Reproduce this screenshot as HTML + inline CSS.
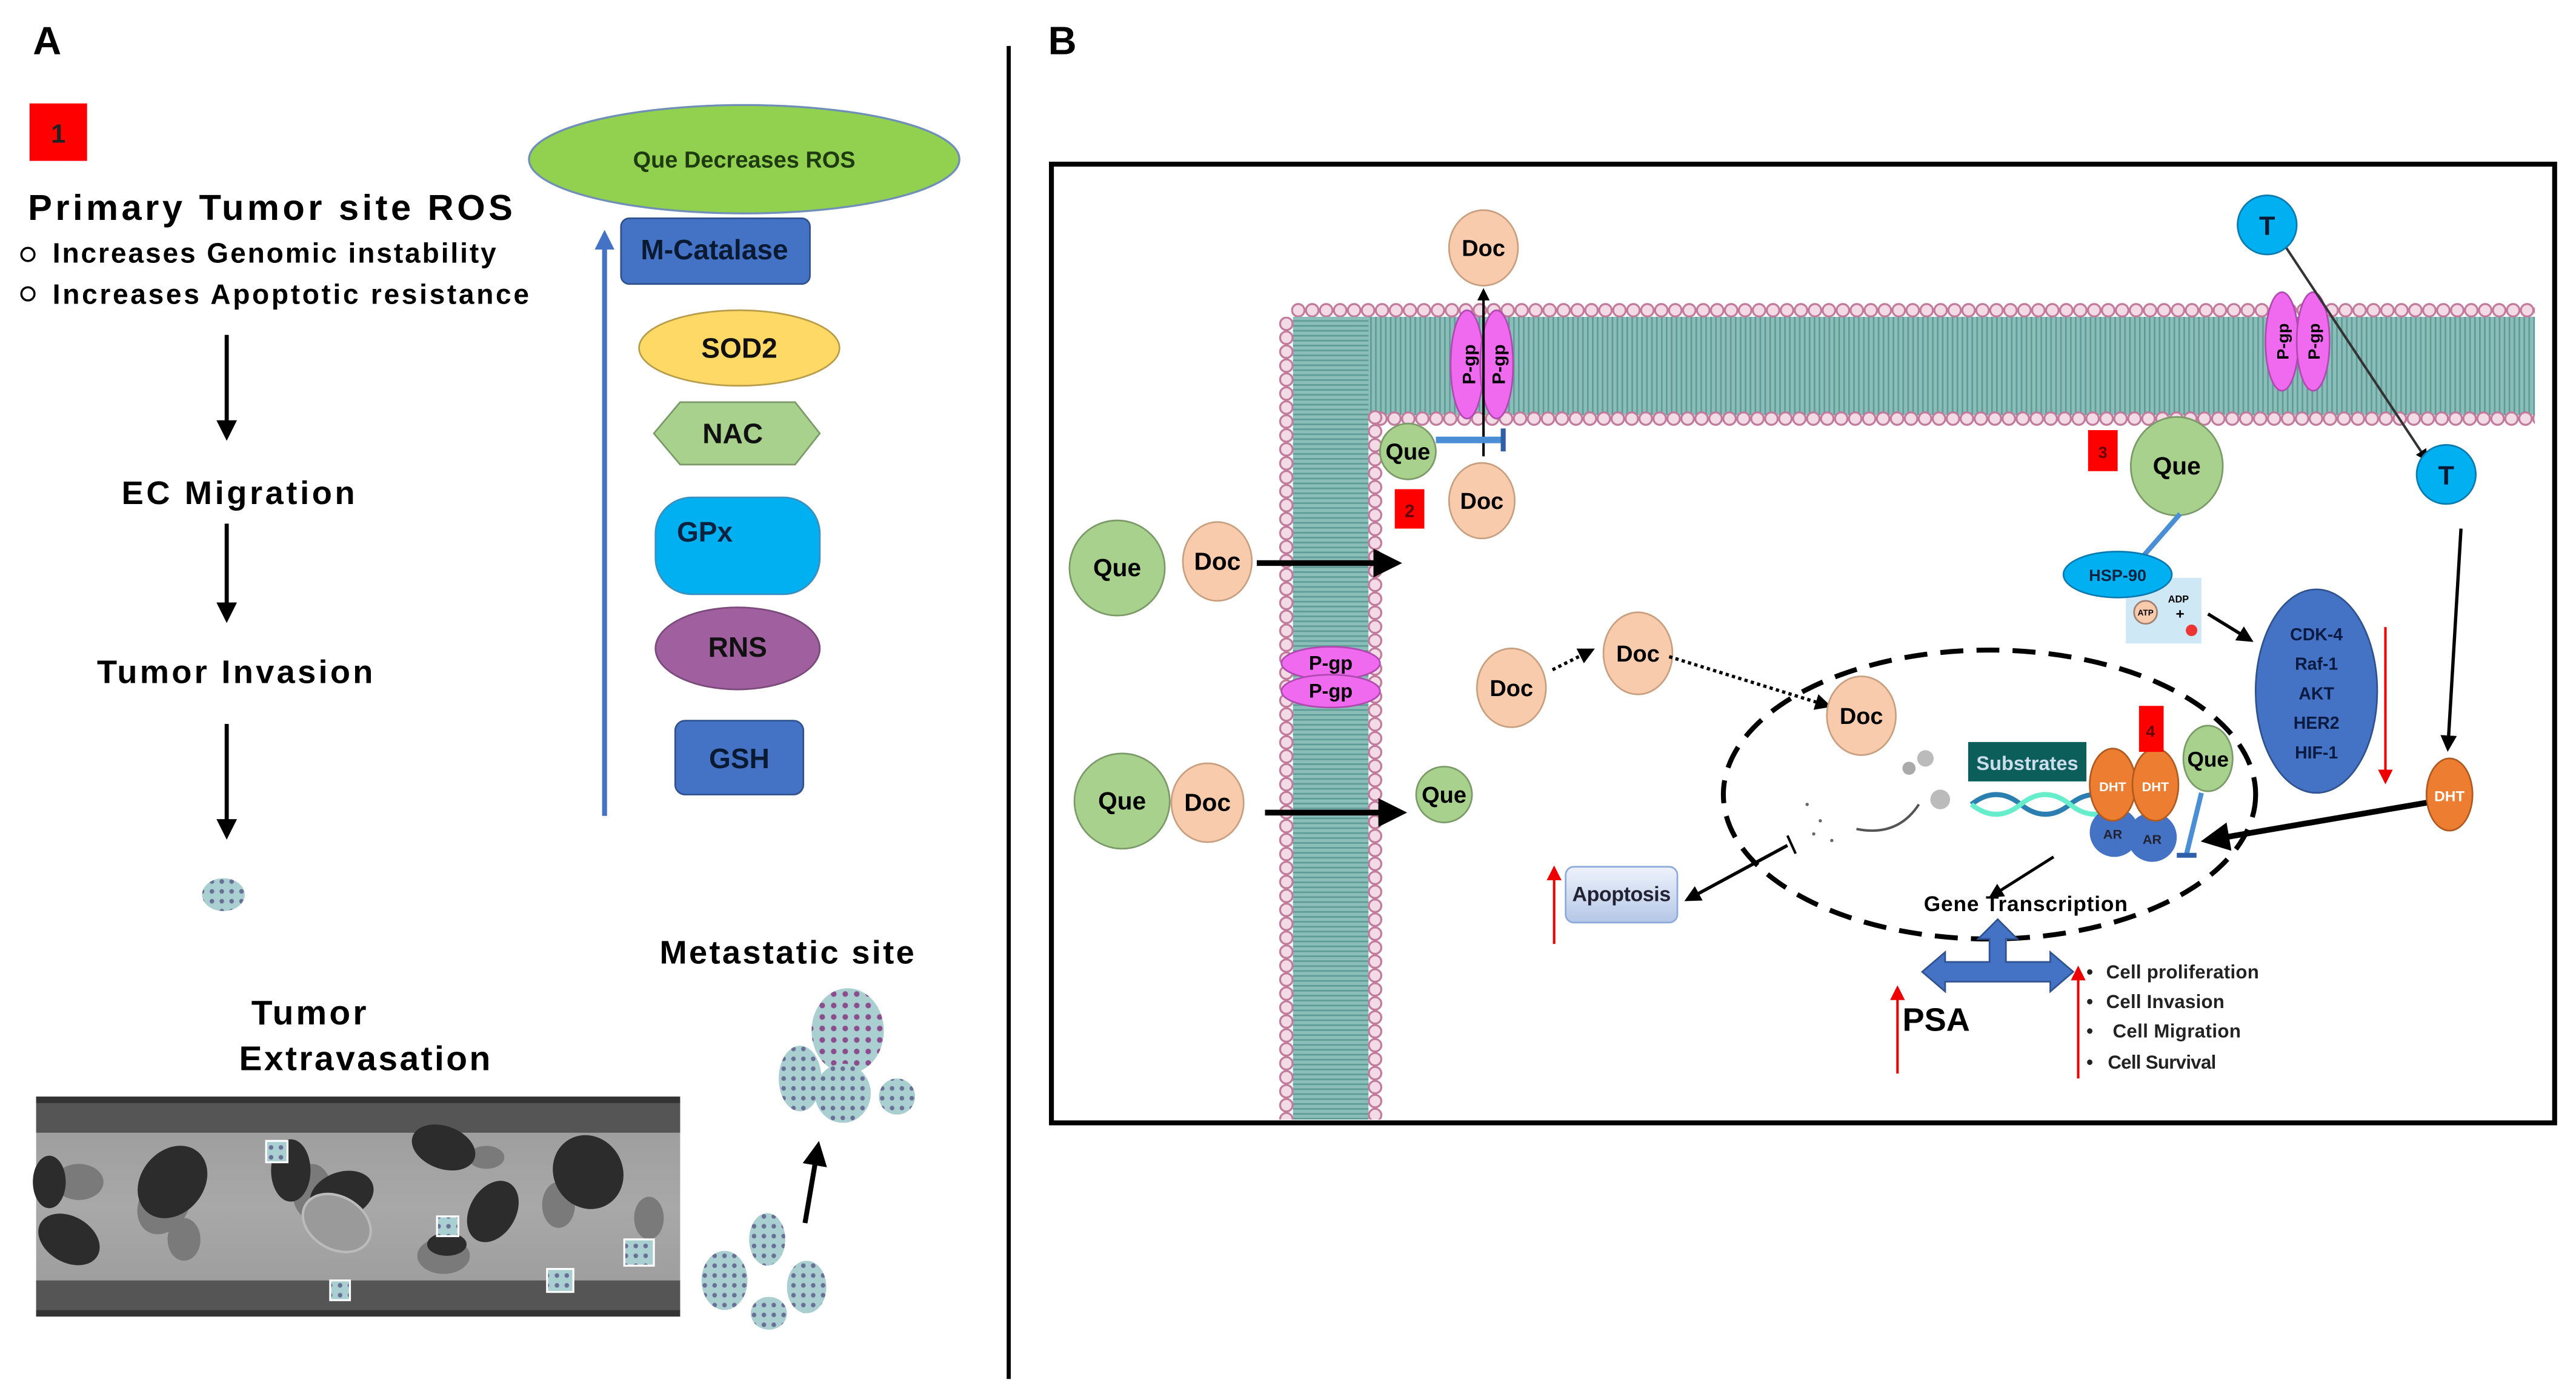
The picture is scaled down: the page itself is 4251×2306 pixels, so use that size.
<!DOCTYPE html>
<html><head><meta charset="utf-8"><style>
html,body{margin:0;padding:0;background:#fff}
svg{display:block}
text{font-family:"Liberation Sans",sans-serif;font-weight:bold}
</style></head><body>
<svg width="4251" height="2306" viewBox="0 0 1568 851" preserveAspectRatio="none" xmlns="http://www.w3.org/2000/svg">
<defs>
<marker id="ah" viewBox="0 0 10 10" refX="8" refY="5" markerWidth="5" markerHeight="5" orient="auto"><path d="M0,0L10,5L0,10z" fill="#000"/></marker>
<marker id="ahr" viewBox="0 0 10 10" refX="8" refY="5" markerWidth="6" markerHeight="6" orient="auto"><path d="M0,0L10,5L0,10z" fill="#e00"/></marker>
<pattern id="headsH1" x="786" y="184" width="8.5" height="10" patternUnits="userSpaceOnUse"><circle cx="4.25" cy="5" r="3.8" fill="#f3dbe6" stroke="#c27a9c" stroke-width="1.2"/></pattern>
<pattern id="headsH2" x="836" y="250" width="8.5" height="10" patternUnits="userSpaceOnUse"><circle cx="4.25" cy="5" r="3.8" fill="#f3dbe6" stroke="#c27a9c" stroke-width="1.2"/></pattern>
<pattern id="headsV1" x="778" y="193" width="10" height="8.5" patternUnits="userSpaceOnUse"><circle cx="5" cy="4.25" r="3.8" fill="#f3dbe6" stroke="#c27a9c" stroke-width="1.2"/></pattern>
<pattern id="headsV2" x="832" y="250" width="10" height="8.5" patternUnits="userSpaceOnUse"><circle cx="5" cy="4.25" r="3.8" fill="#f3dbe6" stroke="#c27a9c" stroke-width="1.2"/></pattern>
<pattern id="vstripe" width="3" height="10" patternUnits="userSpaceOnUse"><rect width="3" height="10" fill="#8bbdb9"/><rect width="1" height="10" fill="#5f9c98"/></pattern>
<pattern id="hstripe" width="10" height="3" patternUnits="userSpaceOnUse"><rect width="10" height="3" fill="#8bbdb9"/><rect width="10" height="1" fill="#5f9c98"/></pattern>
<pattern id="cells" width="6" height="6" patternUnits="userSpaceOnUse"><rect width="6" height="6" fill="#a9cfd0"/><circle cx="3" cy="3" r="1.4" fill="#6a6f98"/></pattern>
<pattern id="cells2" width="7" height="7" patternUnits="userSpaceOnUse"><rect width="7" height="7" fill="#a9cfd0"/><circle cx="3.5" cy="3.5" r="1.7" fill="#8c4d8e"/></pattern>
<linearGradient id="vess" x1="0" y1="0" x2="0" y2="1"><stop offset="0" stop-color="#9a9a9a"/><stop offset="0.5" stop-color="#a8a8a8"/><stop offset="1" stop-color="#9a9a9a"/></linearGradient>
<linearGradient id="apo" x1="0" y1="0" x2="0" y2="1"><stop offset="0" stop-color="#eef2fb"/><stop offset="1" stop-color="#b4c7e7"/></linearGradient>
</defs>

<!-- Panel A -->
<text x="20" y="33" font-size="24">A</text>
<rect x="18" y="63" width="35" height="35" fill="#f00"/>
<text x="35.5" y="87" font-size="16" text-anchor="middle" font-weight="normal" fill="#222">1</text>
<text x="17" y="134" font-size="22" textLength="295">Primary  Tumor site ROS</text>
<circle cx="17" cy="155" r="4" fill="none" stroke="#000" stroke-width="1.3"/>
<text x="32" y="160" font-size="17" textLength="270">Increases Genomic instability</text>
<circle cx="17" cy="179" r="4" fill="none" stroke="#000" stroke-width="1.3"/>
<text x="32" y="185" font-size="17" textLength="290">Increases  Apoptotic resistance</text>
<line x1="138" y1="204" x2="138" y2="266" stroke="#000" stroke-width="2.5" marker-end="url(#ah)"/>
<text x="145" y="307" font-size="20" text-anchor="middle" textLength="142">EC Migration</text>
<line x1="138" y1="319" x2="138" y2="377" stroke="#000" stroke-width="2.5" marker-end="url(#ah)"/>
<text x="143" y="416" font-size="20" text-anchor="middle" textLength="168">Tumor Invasion</text>
<line x1="138" y1="441" x2="138" y2="509" stroke="#000" stroke-width="2.5" marker-end="url(#ah)"/>
<ellipse cx="136" cy="545" rx="13" ry="10" fill="url(#cells)"/>

<ellipse cx="453" cy="97" rx="131" ry="33" fill="#92d050" stroke="#6f8fb8" stroke-width="1.2"/>
<text x="453" y="102" font-size="14" text-anchor="middle" fill="#1e3a10" font-weight="normal">Que Decreases ROS</text>
<line x1="368" y1="497" x2="368" y2="150" stroke="#4472c4" stroke-width="3"/>
<path d="M362,152 L368,140 L374,152 z" fill="#4472c4"/>
<rect x="378" y="133" width="115" height="40" rx="5" fill="#4472c4" stroke="#2f528f"/>
<text x="390" y="158" font-size="17" fill="#0b1a33">M-Catalase</text>
<ellipse cx="450" cy="212" rx="61" ry="23" fill="#ffd966" stroke="#b79c4a"/>
<text x="450" y="218" font-size="17" text-anchor="middle" fill="#111">SOD2</text>
<path d="M398,264 L414,245 L484,245 L499,264 L484,283 L414,283 z" fill="#a9d18e" stroke="#7a9a68"/>
<text x="446" y="270" font-size="17" text-anchor="middle" fill="#111">NAC</text>
<rect x="399" y="303" width="100" height="59" rx="22" fill="#00b0f0" stroke="#3a8fc0"/>
<text x="412" y="330" font-size="17" fill="#0b2340">GPx</text>
<ellipse cx="449" cy="395" rx="50" ry="25" fill="#a0609f" stroke="#7a4a7a"/>
<text x="449" y="400" font-size="17" text-anchor="middle" fill="#111">RNS</text>
<rect x="411" y="439" width="78" height="45" rx="6" fill="#4472c4" stroke="#2f528f"/>
<text x="450" y="468" font-size="17" text-anchor="middle" fill="#0b1a33">GSH</text>

<text x="188" y="624" font-size="21" text-anchor="middle" textLength="70">Tumor</text>
<text x="222" y="652" font-size="21" text-anchor="middle" textLength="153">Extravasation</text>
<text x="479" y="587" font-size="20" text-anchor="middle" textLength="155">Metastatic site</text>

<rect x="22" y="668" width="392" height="134" fill="url(#vess)"/>
<rect x="22" y="668" width="392" height="4" fill="#333"/>
<rect x="22" y="672" width="392" height="18" fill="#555"/>
<rect x="22" y="780" width="392" height="18" fill="#555"/>
<rect x="22" y="798" width="392" height="4" fill="#333"/>
<g fill="#7a7a7a">
<ellipse cx="48" cy="720" rx="15" ry="11"/><ellipse cx="100" cy="733" rx="15" ry="20" transform="rotate(30 100 733)"/>
<ellipse cx="190" cy="726" rx="12" ry="17"/><ellipse cx="340" cy="734" rx="10" ry="14"/>
<ellipse cx="112" cy="755" rx="10" ry="13"/><ellipse cx="270" cy="765" rx="16" ry="11"/>
<ellipse cx="395" cy="742" rx="9" ry="13"/><ellipse cx="296" cy="705" rx="11" ry="7"/>
</g>
<g fill="#2c2c2c">
<ellipse cx="30" cy="720" rx="10" ry="16"/><ellipse cx="105" cy="720" rx="19" ry="24" transform="rotate(40 105 720)"/>
<ellipse cx="177" cy="713" rx="12" ry="19"/><ellipse cx="208" cy="728" rx="20" ry="14" transform="rotate(-20 208 728)"/>
<ellipse cx="270" cy="699" rx="20" ry="13" transform="rotate(20 270 699)"/>
<ellipse cx="358" cy="714" rx="21" ry="23" transform="rotate(-30 358 714)"/>
<ellipse cx="300" cy="738" rx="14" ry="20" transform="rotate(30 300 738)"/>
<ellipse cx="42" cy="755" rx="20" ry="14" transform="rotate(30 42 755)"/>
<ellipse cx="272" cy="758" rx="12" ry="7"/>
</g>
<ellipse cx="205" cy="745" rx="22" ry="16" fill="#9a9a9a" stroke="#bbb" stroke-width="1.5" transform="rotate(30 205 745)"/>
<g stroke="#fff" stroke-width="1.2">
<rect x="162" y="695" width="13" height="13" fill="url(#cells)"/><rect x="266" y="741" width="13" height="12" fill="url(#cells)"/>
<rect x="380" y="755" width="18" height="16" fill="url(#cells)"/><rect x="333" y="773" width="16" height="14" fill="url(#cells)"/>
<rect x="201" y="780" width="12" height="12" fill="url(#cells)"/>
</g>
<g>
<ellipse cx="516" cy="628" rx="22" ry="26" fill="url(#cells2)"/>
<ellipse cx="487" cy="657" rx="13" ry="20" fill="url(#cells)"/>
<ellipse cx="513" cy="666" rx="17" ry="18" fill="url(#cells)"/>
<ellipse cx="546" cy="668" rx="11" ry="11" fill="url(#cells)"/>
<ellipse cx="467" cy="755" rx="11" ry="16" fill="url(#cells)"/>
<ellipse cx="441" cy="780" rx="14" ry="18" fill="url(#cells)"/>
<ellipse cx="491" cy="784" rx="12" ry="16" fill="url(#cells)"/>
<ellipse cx="468" cy="800" rx="11" ry="10" fill="url(#cells)"/>
</g>
<line x1="490" y1="745" x2="498" y2="698" stroke="#000" stroke-width="3" marker-end="url(#ah)"/>

<!-- divider -->
<line x1="614" y1="28" x2="614" y2="840" stroke="#000" stroke-width="2.5"/>

<!-- Panel B -->
<text x="638" y="33" font-size="24">B</text>
<rect x="640" y="100" width="915" height="584" fill="#fff" stroke="#000" stroke-width="3"/>

<!-- membranes -->
<rect x="788" y="193" width="755" height="60" fill="url(#vstripe)"/>
<rect x="786" y="184" width="757" height="10" fill="url(#headsH1)"/>
<rect x="836" y="250" width="707" height="10" fill="url(#headsH2)"/>
<rect x="787" y="193" width="46" height="489" fill="url(#hstripe)"/>
<rect x="778" y="193" width="10" height="489" fill="url(#headsV1)"/>
<rect x="832" y="250" width="10" height="432" fill="url(#headsV2)"/>

<!-- P-gp top-left -->
<ellipse cx="893" cy="222" rx="10" ry="33" fill="#f06af0" stroke="#b04ab0"/>
<ellipse cx="911" cy="222" rx="10" ry="33" fill="#f06af0" stroke="#b04ab0"/>
<text transform="translate(898,222) rotate(-90)" font-size="11" text-anchor="middle">P-gp</text>
<text transform="translate(916,222) rotate(-90)" font-size="11" text-anchor="middle">P-gp</text>
<line x1="903" y1="278" x2="903" y2="177" stroke="#000" stroke-width="1.5" marker-end="url(#ah)"/>
<ellipse cx="903" cy="151" rx="21" ry="23" fill="#f8cbad" stroke="#c8a080"/>
<text x="903" y="156" font-size="14" text-anchor="middle">Doc</text>
<line x1="874" y1="268" x2="914" y2="268" stroke="#4a8fd6" stroke-width="4"/>
<line x1="915" y1="261" x2="915" y2="275" stroke="#2f5fa8" stroke-width="3"/>
<circle cx="857" cy="275" r="17" fill="#a9d18e" stroke="#7a9a68"/>
<text x="857" y="280" font-size="14" text-anchor="middle">Que</text>
<rect x="849" y="298" width="18" height="24" fill="#f00"/>
<text x="858" y="315" font-size="11" text-anchor="middle" font-weight="normal" fill="#600">2</text>
<ellipse cx="902" cy="305" rx="20" ry="23" fill="#f8cbad" stroke="#c8a080"/>
<text x="902" y="310" font-size="14" text-anchor="middle">Doc</text>

<!-- left molecules -->
<circle cx="680" cy="346" r="29" fill="#a9d18e" stroke="#7a9a68"/>
<text x="680" y="351" font-size="15" text-anchor="middle">Que</text>
<ellipse cx="741" cy="342" rx="21" ry="24" fill="#f8cbad" stroke="#c8a080"/>
<text x="741" y="347" font-size="15" text-anchor="middle">Doc</text>
<line x1="765" y1="343" x2="850" y2="343" stroke="#000" stroke-width="3.5" marker-end="url(#ah)"/>
<ellipse cx="810" cy="404" rx="30" ry="10" fill="#f06af0" stroke="#b04ab0"/>
<ellipse cx="810" cy="421" rx="30" ry="10" fill="#f06af0" stroke="#b04ab0"/>
<text x="810" y="408" font-size="12" text-anchor="middle" font-weight="normal">P-gp</text>
<text x="810" y="425" font-size="12" text-anchor="middle" font-weight="normal">P-gp</text>
<circle cx="683" cy="488" r="29" fill="#a9d18e" stroke="#7a9a68"/>
<text x="683" y="493" font-size="15" text-anchor="middle">Que</text>
<ellipse cx="735" cy="489" rx="22" ry="24" fill="#f8cbad" stroke="#c8a080"/>
<text x="735" y="494" font-size="15" text-anchor="middle">Doc</text>
<line x1="770" y1="495" x2="853" y2="495" stroke="#000" stroke-width="3.5" marker-end="url(#ah)"/>
<circle cx="879" cy="484" r="17" fill="#a9d18e" stroke="#7a9a68"/>
<text x="879" y="489" font-size="14" text-anchor="middle">Que</text>

<!-- doc path -->
<ellipse cx="920" cy="419" rx="21" ry="24" fill="#f8cbad" stroke="#c8a080"/>
<text x="920" y="424" font-size="14" text-anchor="middle">Doc</text>
<line x1="945" y1="408" x2="969" y2="396" stroke="#000" stroke-width="2" stroke-dasharray="2,2" marker-end="url(#ah)"/>
<ellipse cx="997" cy="398" rx="21" ry="25" fill="#f8cbad" stroke="#c8a080"/>
<text x="997" y="403" font-size="14" text-anchor="middle">Doc</text>
<line x1="1016" y1="400" x2="1113" y2="430" stroke="#000" stroke-width="2" stroke-dasharray="2,2" marker-end="url(#ah)"/>

<!-- nucleus -->
<ellipse cx="1211" cy="484" rx="162" ry="88" fill="none" stroke="#000" stroke-width="3" stroke-dasharray="14,8"/>
<ellipse cx="1133" cy="436" rx="21" ry="24" fill="#f8cbad" stroke="#c8a080"/>
<text x="1133" y="441" font-size="14" text-anchor="middle">Doc</text>
<circle cx="1162" cy="468" r="4" fill="#aaa"/><circle cx="1172" cy="462" r="5" fill="#bbb"/><circle cx="1181" cy="487" r="6" fill="#bbb"/>
<path d="M1130,505 Q1155,510 1168,490" fill="none" stroke="#555" stroke-width="1.5"/>
<g fill="#666"><circle cx="1100" cy="490" r="1"/><circle cx="1108" cy="500" r="1"/><circle cx="1104" cy="508" r="1"/><circle cx="1115" cy="512" r="1"/></g>
<rect x="1198" y="452" width="72" height="24" fill="#0b5e5a"/>
<text x="1234" y="469" font-size="12" text-anchor="middle" fill="#cde">Substrates</text>
<path d="M1200,490 Q1215,478 1230,490 T1260,490 T1290,490" fill="none" stroke="#2a7fb0" stroke-width="3"/>
<path d="M1200,490 Q1215,502 1230,490 T1260,490 T1290,490" fill="none" stroke="#6ec" stroke-width="3"/>
<circle cx="1287" cy="507" r="15" fill="#4472c4"/><circle cx="1310" cy="510" r="15" fill="#4472c4"/>
<ellipse cx="1286" cy="478" rx="14" ry="22" fill="#ed7d31" stroke="#b05a20"/>
<ellipse cx="1312" cy="478" rx="14" ry="22" fill="#ed7d31" stroke="#b05a20"/>
<text x="1286" y="482" font-size="8" text-anchor="middle" fill="#fff" font-weight="normal">DHT</text>
<text x="1312" y="482" font-size="8" text-anchor="middle" fill="#fff" font-weight="normal">DHT</text>
<text x="1286" y="511" font-size="8" text-anchor="middle" fill="#223" font-weight="normal">AR</text>
<text x="1310" y="514" font-size="8" text-anchor="middle" fill="#223" font-weight="normal">AR</text>
<rect x="1302" y="430" width="15" height="28" fill="#f00"/>
<text x="1309" y="449" font-size="10" text-anchor="middle" font-weight="normal" fill="#600">4</text>
<ellipse cx="1344" cy="462" rx="15" ry="20" fill="#a9d18e" stroke="#7a9a68"/>
<text x="1344" y="467" font-size="13" text-anchor="middle">Que</text>
<line x1="1340" y1="483" x2="1331" y2="520" stroke="#4a8fd6" stroke-width="3"/>
<line x1="1325" y1="521" x2="1337" y2="521" stroke="#2f5fa8" stroke-width="3"/>
<text x="1233" y="555" font-size="13" text-anchor="middle" font-weight="normal" textLength="124">Gene Transcription</text>
<line x1="1250" y1="522" x2="1212" y2="546" stroke="#000" stroke-width="1.8" marker-end="url(#ah)"/>

<!-- apoptosis -->
<line x1="1088" y1="515" x2="1027" y2="548" stroke="#000" stroke-width="2" marker-end="url(#ah)"/>
<line x1="1093" y1="520" x2="1088" y2="509" stroke="#000" stroke-width="1.5"/>
<rect x="953" y="528" width="68" height="34" rx="5" fill="url(#apo)" stroke="#8ea9db"/>
<text x="987" y="549" font-size="12.5" text-anchor="middle" fill="#223" textLength="60">Apoptosis</text>
<line x1="946" y1="575" x2="946" y2="529" stroke="#e00" stroke-width="1.5" marker-end="url(#ahr)"/>

<!-- big double arrow -->
<path d="M1170,592 L1184,580 L1184,586 L1211,586 L1211,572 L1204,572 L1216,560 L1228,572 L1221,572 L1221,586 L1248,586 L1248,580 L1262,592 L1248,604 L1248,598 L1184,598 L1184,604 z" fill="#4472c4" stroke="#2f528f" stroke-width="1"/>
<line x1="1155" y1="654" x2="1155" y2="602" stroke="#e00" stroke-width="1.5" marker-end="url(#ahr)"/>
<text x="1158" y="628" font-size="20">PSA</text>
<line x1="1265" y1="657" x2="1265" y2="590" stroke="#e00" stroke-width="1.5" marker-end="url(#ahr)"/>
<g font-size="11.5" fill="#222">
<text x="1270" y="596">•</text><text x="1282" y="596" textLength="93">Cell proliferation</text>
<text x="1270" y="614">•</text><text x="1282" y="614" textLength="72">Cell  Invasion</text>
<text x="1270" y="632">•</text><text x="1286" y="632" textLength="78">Cell Migration</text>
<text x="1270" y="651">•</text><text x="1283" y="651" textLength="66">Cell Survival</text>
</g>

<!-- Que 3 / HSP-90 -->
<rect x="1271" y="262" width="18" height="25" fill="#f00"/>
<text x="1280" y="279" font-size="10" text-anchor="middle" font-weight="normal" fill="#600">3</text>
<ellipse cx="1325" cy="284" rx="28" ry="30" fill="#a9d18e" stroke="#7a9a68"/>
<text x="1325" y="289" font-size="15" text-anchor="middle">Que</text>
<line x1="1327" y1="313" x2="1300" y2="344" stroke="#4a8fd6" stroke-width="3"/>
<line x1="1294" y1="341" x2="1305" y2="350" stroke="#2f5fa8" stroke-width="3"/>
<rect x="1294" y="352" width="46" height="40" fill="#cfe8f6"/>
<ellipse cx="1289" cy="350" rx="33" ry="14" fill="#00b0f0" stroke="#0a7ab0"/>
<text x="1289" y="354" font-size="10" text-anchor="middle" fill="#0b2340">HSP-90</text>
<circle cx="1306" cy="373" r="7" fill="#f8cbad" stroke="#a08070"/>
<text x="1306" y="375" font-size="5" text-anchor="middle" font-weight="normal">ATP</text>
<text x="1326" y="367" font-size="6" text-anchor="middle" font-weight="normal">ADP</text>
<text x="1327" y="377" font-size="9" text-anchor="middle">+</text>
<circle cx="1334" cy="384" r="3.5" fill="#e33"/>
<line x1="1344" y1="374" x2="1370" y2="390" stroke="#000" stroke-width="2" marker-end="url(#ah)"/>
<ellipse cx="1410" cy="421" rx="37" ry="62" fill="#4472c4" stroke="#2f528f"/>
<g font-size="10.5" fill="#0b1a40" text-anchor="middle">
<text x="1410" y="390">CDK-4</text><text x="1410" y="408">Raf-1</text><text x="1410" y="426">AKT</text><text x="1410" y="444">HER2</text><text x="1410" y="462">HIF-1</text>
</g>
<line x1="1452" y1="382" x2="1452" y2="476" stroke="#e00" stroke-width="1.5" marker-end="url(#ahr)"/>

<!-- T path -->
<ellipse cx="1389" cy="208" rx="10" ry="30" fill="#f06af0" stroke="#b04ab0"/>
<ellipse cx="1408" cy="208" rx="10" ry="30" fill="#f06af0" stroke="#b04ab0"/>
<text transform="translate(1393,208) rotate(-90)" font-size="10" text-anchor="middle">P-gp</text>
<text transform="translate(1412,208) rotate(-90)" font-size="10" text-anchor="middle">P-gp</text>
<line x1="1391" y1="150" x2="1477" y2="280" stroke="#333" stroke-width="1.5" marker-end="url(#ah)"/>
<circle cx="1380" cy="137" r="18" fill="#00b0f0" stroke="#0a7ab0"/>
<text x="1380" y="143" font-size="16" text-anchor="middle" fill="#0b1a33">T</text>
<circle cx="1489" cy="289" r="18" fill="#00b0f0" stroke="#0a7ab0"/>
<text x="1489" y="295" font-size="16" text-anchor="middle" fill="#0b1a33">T</text>
<line x1="1498" y1="322" x2="1490" y2="456" stroke="#000" stroke-width="2" marker-end="url(#ah)"/>
<ellipse cx="1491" cy="484" rx="14" ry="22" fill="#ed7d31" stroke="#b05a20"/>
<text x="1491" y="488" font-size="9" text-anchor="middle" fill="#fff" font-weight="normal">DHT</text>
<line x1="1477" y1="489" x2="1343" y2="512" stroke="#000" stroke-width="3.5" marker-end="url(#ah)"/>
</svg>
</body></html>
